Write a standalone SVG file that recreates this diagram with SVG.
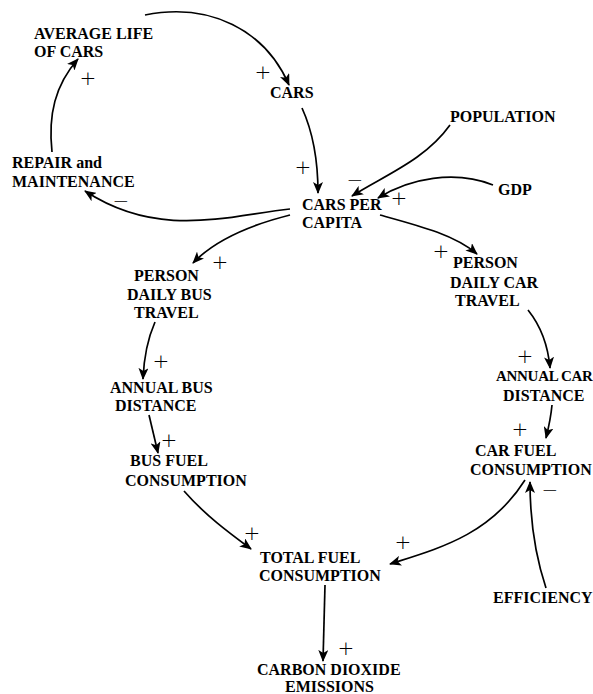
<svg xmlns="http://www.w3.org/2000/svg" width="593" height="694" viewBox="0 0 593 694">
<style>
.n{font-family:"Liberation Serif","Times New Roman",serif;font-weight:bold;font-size:16px;fill:#000}
.s{font-family:"DejaVu Sans","Liberation Sans",sans-serif;font-weight:200;font-size:20px;fill:#000}
.c{fill:none;stroke:#000;stroke-width:1.7;marker-end:url(#ah)}
</style>
<defs>
<marker id="ah" viewBox="0 0 12 10" refX="11" refY="5" markerWidth="12" markerHeight="10" markerUnits="userSpaceOnUse" orient="auto">
<path d="M0,0 L12,5 L0,10 L3,5 Z" fill="#000"/>
</marker>
</defs>
<rect width="593" height="694" fill="#fff"/>
<g id="connectors">
<path class="c" d="M145,15 C210,2 265,30 289,85"/>
<path class="c" d="M302,108 C312,130 318,160 318,193"/>
<path class="c" d="M450,125 C425,160 385,175 352,196"/>
<path class="c" d="M493,185 C455,170 410,178 378,198"/>
<path class="c" d="M290,209 C230,215 160,240 85,191"/>
<path class="c" d="M52,152 C48,115 55,85 78,59"/>
<path class="c" d="M290,215 C250,225 215,240 193,263"/>
<path class="c" d="M380,215 C420,226 455,235 477,254"/>
<path class="c" d="M155,322 C148,338 144,355 143,379"/>
<path class="c" d="M149,415 C152,428 155,440 158,453"/>
<path class="c" d="M184,491 C205,515 228,532 251,549"/>
<path class="c" d="M528,310 C540,325 548,345 550,368"/>
<path class="c" d="M552,405 C551,416 549,426 546,438"/>
<path class="c" d="M525,480 C490,535 440,548 390,564"/>
<path class="c" d="M546,588 C535,555 530,520 530,482"/>
<path class="c" d="M325,585 L323,661"/>
</g>
<g id="avg_life"><text class="n" x="34" y="39">AVERAGE LIFE</text><text class="n" x="34" y="57">OF CARS</text></g>
<g id="cars"><text class="n" x="270" y="98">CARS</text></g>
<g id="population"><text class="n" x="450" y="122">POPULATION</text></g>
<g id="repair"><text class="n" x="12" y="168">REPAIR and</text><text class="n" x="12" y="187">MAINTENANCE</text></g>
<g id="cars_per_capita"><text class="n" x="302" y="210">CARS PER</text><text class="n" x="302" y="228">CAPITA</text></g>
<g id="gdp"><text class="n" x="498" y="195">GDP</text></g>
<g id="person_bus"><text class="n" x="134" y="281">PERSON</text><text class="n" x="127" y="300">DAILY BUS</text><text class="n" x="134" y="318">TRAVEL</text></g>
<g id="person_car"><text class="n" x="453" y="268">PERSON</text><text class="n" x="450" y="288">DAILY CAR</text><text class="n" x="455" y="306">TRAVEL</text></g>
<g id="annual_bus"><text class="n" x="110" y="393">ANNUAL BUS</text><text class="n" x="115" y="411">DISTANCE</text></g>
<g id="annual_car"><text class="n" x="496" y="381" style="font-size:15px;letter-spacing:-0.3px">ANNUAL CAR</text><text class="n" x="503" y="401">DISTANCE</text></g>
<g id="bus_fuel"><text class="n" x="130" y="466">BUS FUEL</text><text class="n" x="125" y="486">CONSUMPTION</text></g>
<g id="car_fuel"><text class="n" x="475" y="456">CAR FUEL</text><text class="n" x="470" y="475">CONSUMPTION</text></g>
<g id="total_fuel"><text class="n" x="260" y="563">TOTAL FUEL</text><text class="n" x="259" y="581">CONSUMPTION</text></g>
<g id="efficiency"><text class="n" x="493" y="603">EFFICIENCY</text></g>
<g id="co2"><text class="n" x="257" y="675">CARBON DIOXIDE</text><text class="n" x="285" y="692">EMISSIONS</text></g>
<g id="signs" text-anchor="middle">
<text class="s" x="88" y="85">+</text>
<text class="s" x="263" y="79">+</text>
<text class="s" x="121" y="208">−</text>
<text class="s" x="303" y="174">+</text>
<text class="s" x="355" y="187">−</text>
<text class="s" x="399" y="205">+</text>
<text class="s" x="220" y="269">+</text>
<text class="s" x="441" y="258">+</text>
<text class="s" x="161" y="368">+</text>
<text class="s" x="169" y="447">+</text>
<text class="s" x="525" y="363">+</text>
<text class="s" x="520" y="436">+</text>
<text class="s" x="550" y="497">−</text>
<text class="s" x="252" y="540">+</text>
<text class="s" x="403" y="549">+</text>
<text class="s" x="346" y="655">+</text>
</g>
</svg>
